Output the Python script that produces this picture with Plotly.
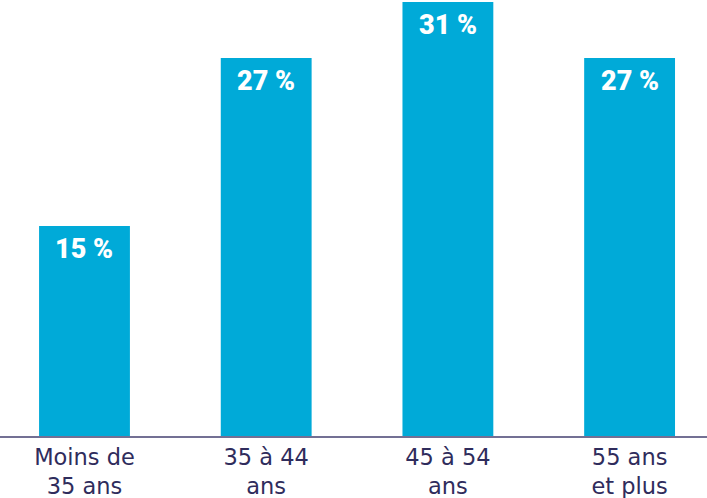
import plotly.graph_objects as go

categories = ["Moins de<br>35 ans", "35 à 44<br>ans", "45 à 54<br>ans", "55 ans<br>et plus"]
values = [15, 27, 31, 27]
value_labels = ["15 %", "27 %", "31 %", "27 %"]

bar_color = "#00AAD8"
text_color = "#2F2C5C"

fig = go.Figure()
fig.add_trace(go.Bar(
    x=list(range(len(categories))),
    y=values,
    width=0.5,
    marker=dict(color=bar_color, line=dict(width=0)),
    hoverinfo="skip",
))

for i, (v, lab) in enumerate(zip(values, value_labels)):
    fig.add_annotation(
        x=i, y=v, text=lab, showarrow=False,
        yanchor="top", xanchor="center", yshift=-5,
        font=dict(family="Roboto", size=27, color="white", weight=900),
    )

fig.update_layout(
    width=707, height=498,
    margin=dict(l=0, r=0, t=0, b=62),
    paper_bgcolor="white", plot_bgcolor="white",
    showlegend=False,
    xaxis=dict(
        tickmode="array",
        tickvals=list(range(len(categories))),
        ticktext=categories,
        range=[-0.465, 3.426],
        showgrid=False, zeroline=False,
        showline=True, linecolor="rgba(40,35,90,0.65)", linewidth=2,
        ticks="",
        tickfont=dict(family="DejaVu Sans", size=22.5, color=text_color),
    ),
    yaxis=dict(
        range=[0, 31.14],
        visible=False, showgrid=False, zeroline=False,
    ),
)

fig.write_html("out.html", config={"displayModeBar": False},
               post_script="document.body.style.margin='0px';")
